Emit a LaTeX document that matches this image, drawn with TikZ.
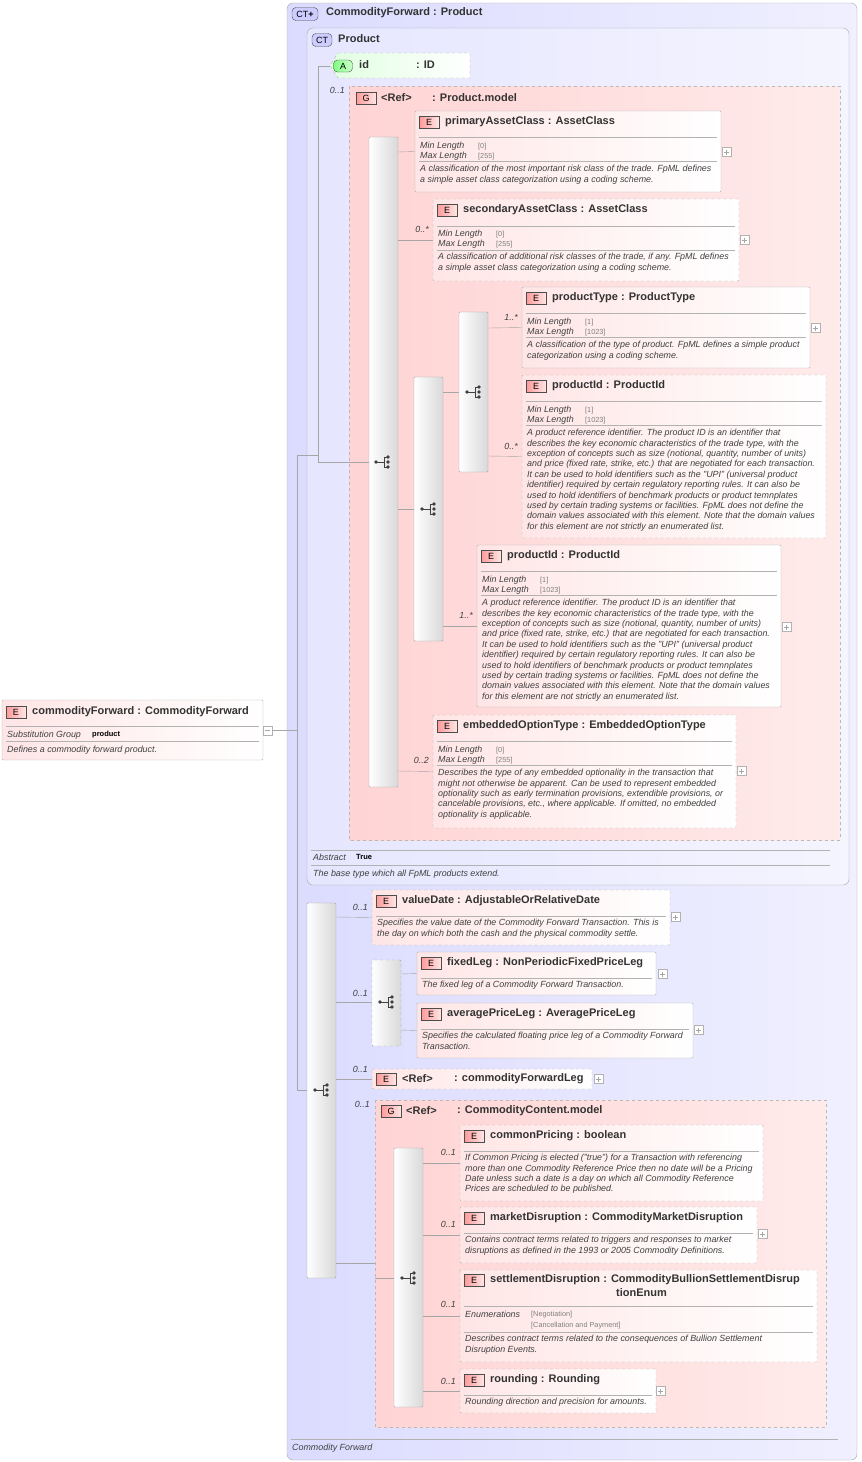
\documentclass[tikz,border=0pt]{standalone}
\usepackage{fontspec}
\setmainfont{Liberation Sans}
\begin{document}
\begin{tikzpicture}[x=1pt,y=-1pt,
 ctbox/.style={draw=gray!70,rounded corners=6pt,left color=blue!14,right color=blue!6},
 grp/.style={draw=gray!55,dashed,left color=red!17,right color=red!8},
 elbox/.style={draw=gray!60,rounded corners=1pt,left color=red!10,right color=white},
 bar/.style={draw=gray!70,left color=white,right color=gray!30,rounded corners=1pt},
 badge/.style={draw=gray!60!black,minimum width=20pt,minimum height=12pt,inner sep=0pt,font=\fontsize{9}{9}\selectfont,left color=red!40,right color=red!10},
 ttl/.style={anchor=west,font=\fontsize{11}{12}\selectfont\bfseries,text=black!80,inner sep=0pt},
 desc/.style={anchor=north west,align=left,inner sep=0pt,font=\fontsize{8.9}{10.4}\selectfont\itshape,text=black!75},
 lab/.style={anchor=base west,inner sep=0pt,font=\fontsize{8.9}{9}\selectfont\itshape,text=black!75},
 val/.style={anchor=base west,inner sep=0pt,font=\fontsize{7.3}{8}\selectfont,text=gray},
 card/.style={anchor=base east,inner sep=0pt,font=\fontsize{8.9}{9}\selectfont\itshape,text=black!75},
 sep/.style={draw=gray!60},
 con/.style={draw=gray!70}]
\useasboundingbox (0,0) rectangle (862,1462);
\newcommand\El[8]{\draw[elbox,#6] (#2,#3) rectangle (#4,#5);
 \node[badge] at (#2+14,#7) {E};
 \node[ttl] at (#2+30,#7) {#8};
 \coordinate (#1) at (#2,{0.5*(#3+#5)});}
\newcommand\Sep[3]{\draw[sep] (#1,#3) -- (#2,#3);}
\newcommand\MM[4]{\node[lab] at (#1+5,#2) {Min Length}; \node[val] at (#1+63,#2) {[#3]};
 \node[lab] at (#1+5,#2+10) {Max Length}; \node[val] at (#1+63,#2+10) {[#4]};}
\newcommand\Plus[2]{\draw[gray!60,fill=white] (#1,#2-4.5) rectangle (#1+9,#2+4.5); \draw[gray!70] (#1+2,#2)--(#1+7,#2) (#1+4.5,#2-2.5)--(#1+4.5,#2+2.5);}
\newcommand\Icon[2]{\fill[black!75] (#1-7,#2) circle (1.8); \draw[black!75] (#1-7,#2)--(#1+1,#2) (#1+1,#2-5)--(#1+1,#2+5) (#1+1,#2-5)--(#1+4,#2-5) (#1+1,#2+5)--(#1+4,#2+5);
 \fill[black!75] (#1+5,#2-5) circle (1.8) (#1+5,#2) circle (1.8) (#1+5,#2+5) circle (1.8);}

% outer CT
\draw[ctbox] (287,3) rectangle (857,1460);
\node[draw=gray!60!black,rounded corners=4pt,fill=blue!20,inner sep=1pt,minimum width=26pt,minimum height=13pt,font=\fontsize{9}{9}\selectfont] (ctplus) at (305,14) {CT\textbf{+}};
\node[ttl] at (326,13) {CommodityForward : Product};
\draw[sep] (291,1439) -- (838,1439);
\node[lab] at (292,1450) {Commodity Forward};

% Product CT
\draw[ctbox,left color=blue!10,right color=blue!4] (307,28) rectangle (849,885);
\node[draw=gray!60!black,rounded corners=4pt,fill=blue!20,inner sep=1pt,minimum width=20pt,minimum height=13pt,font=\fontsize{9}{9}\selectfont] at (322,40) {CT};
\node[ttl] at (338,39) {Product};
\Sep{311}{830}{850}
\node[lab] at (313,860) {Abstract}; \node[val,font=\fontsize{7.5}{8}\selectfont\bfseries,text=black] at (356,859) {True};
\Sep{311}{830}{865}
\node[lab] at (313,876) {The base type which all FpML products extend.};

% id attribute
\draw[draw=gray!60,dashed,left color=green!12,right color=white] (338,53) -- (470,53) -- (470,78) -- (338,78) -- (330,65.5) -- cycle;
\node[draw=gray!60!black,rounded corners=4pt,left color=green!50,right color=green!20,minimum width=19pt,minimum height=12pt,inner sep=0pt,font=\fontsize{9}{9}\selectfont] at (343,66) {A};
\node[ttl] at (359,65) {id};
\node[ttl] at (416,65) {: ID};
\coordinate (idin) at (330,66);

% Product.model group
\draw[grp] (349,86) rectangle (840,840);
\node[card] at (345,93) {0..1};
\node[badge] at (366,98) {G};
\node[ttl] at (381,98) {<Ref>};
\node[ttl] at (432,98) {: Product.model};

\draw[bar] (369,137) rectangle (398,787); \Icon{383}{462}
\draw[bar] (414,377) rectangle (443,641); \Icon{429}{509}
\draw[bar] (459,312) rectangle (488,472); \Icon{474}{392}

\El{pac}{415}{111}{721}{192}{}{122}{primaryAssetClass : AssetClass}
\Sep{419}{717}{137}\MM{415}{148}{0}{255}\Sep{419}{717}{161}
\node[desc] at (420,165) {A classification of the most important risk class of the trade. FpML defines\\a simple asset class categorization using a coding scheme.};
\Plus{722}{152}

\El{sac}{433}{199}{739}{281}{dashed}{210}{secondaryAssetClass : AssetClass}
\Sep{437}{735}{226}\MM{433}{236}{0}{255}\Sep{437}{735}{250}
\node[desc] at (438,253) {A classification of additional risk classes of the trade, if any. FpML defines\\a simple asset class categorization using a coding scheme.};
\Plus{740}{240}\node[card] at (429,232) {0..*};

\El{pt}{522}{287}{810}{368}{}{298}{productType : ProductType}
\Sep{526}{806}{313}\MM{522}{324}{1}{1023}\Sep{526}{806}{337}
\node[desc] at (527,341) {A classification of the type of product. FpML defines a simple product\\categorization using a coding scheme.};
\Plus{811}{328}\node[card] at (518,320) {1..*};

\El{pid}{522}{375}{826}{538}{dashed}{386}{productId : ProductId}
\Sep{526}{822}{401}\MM{522}{412}{1}{1023}\Sep{526}{822}{425}
\node[desc] at (527,429) {A product reference identifier. The product ID is an identifier that\\describes the key economic characteristics of the trade type, with the\\exception of concepts such as size (notional, quantity, number of units)\\and price (fixed rate, strike, etc.) that are negotiated for each transaction.\\It can be used to hold identifiers such as the "UPI" (universal product\\identifier) required by certain regulatory reporting rules. It can also be\\used to hold identifiers of benchmark products or product temnplates\\used by certain trading systems or facilities. FpML does not define the\\domain values associated with this element. Note that the domain values\\for this element are not strictly an enumerated list.};
\node[card] at (518,449) {0..*};

\El{pid2}{477}{545}{781}{707}{}{556}{productId : ProductId}
\Sep{481}{777}{571}\MM{477}{582}{1}{1023}\Sep{481}{777}{595}
\node[desc] at (482,599) {A product reference identifier. The product ID is an identifier that\\describes the key economic characteristics of the trade type, with the\\exception of concepts such as size (notional, quantity, number of units)\\and price (fixed rate, strike, etc.) that are negotiated for each transaction.\\It can be used to hold identifiers such as the "UPI" (universal product\\identifier) required by certain regulatory reporting rules. It can also be\\used to hold identifiers of benchmark products or product temnplates\\used by certain trading systems or facilities. FpML does not define the\\domain values associated with this element. Note that the domain values\\for this element are not strictly an enumerated list.};
\Plus{782}{627}\node[card] at (473,618) {1..*};

\El{eot}{433}{715}{736}{828}{dashed}{726}{embeddedOptionType : EmbeddedOptionType}
\Sep{437}{732}{741}\MM{433}{752}{0}{255}\Sep{437}{732}{765}
\node[desc] at (438,769) {Describes the type of any embedded optionality in the transaction that\\might not otherwise be apparent. Can be used to represent embedded\\optionality such as early termination provisions, extendible provisions, or\\cancelable provisions, etc., where applicable. If omitted, no embedded\\optionality is applicable.};
\Plus{737}{771}\node[card] at (429,763) {0..2};

% connectors in Product
\draw[con] (398,152) -- (pac);
\draw[con] (398,240) -- (sac);
\draw[con] (398,509) -- (414,509);
\draw[con] (398,771) -- (eot);
\draw[con] (443,392) -- (459,392);
\draw[con] (443,626) -- (pid2);
\draw[con] (488,328) -- (pt);
\draw[con] (488,456) -- (pid);

% root element
\El{root}{2}{700}{263}{760}{}{712}{commodityForward : CommodityForward}
\Sep{6}{259}{726}
\node[lab] at (7,737) {Substitution Group};
\node[val,font=\fontsize{7.5}{8}\selectfont\bfseries,text=black] at (92,736) {product};
\Sep{6}{259}{741}
\node[lab] at (7,752) {Defines a commodity forward product.};
\draw[gray!60,fill=white] (263,726) rectangle (272,735); \draw[gray!70] (265,730.5)--(270,730.5);
\coordinate (rootout) at (272,730.5);

% top-level connectors
\coordinate (j) at (297,730.5);
\draw[con] (rootout) -- (j);
\draw[con] (297,455) -- (297,1090);
\draw[con] (297,455) -- (318,455);
\draw[con] (318,66) -- (318,462);
\draw[con] (318,66) -- (idin);
\draw[con] (318,462) -- (369,462);
\draw[con] (297,1090) -- (307,1090);

% second sequence
\draw[bar] (307,903) rectangle (336,1278); \Icon{322}{1090}
\draw[bar,dashed] (372,960) rectangle (401,1046); \Icon{387}{1002}

\El{vd}{372}{890}{670}{945}{dashed}{901}{valueDate : AdjustableOrRelativeDate}
\Sep{376}{666}{916}
\node[desc] at (377,919) {Specifies the value date of the Commodity Forward Transaction. This is\\the day on which both the cash and the physical commodity settle.};
\Plus{671}{917}\node[card] at (368,910) {0..1};

\El{fl}{417}{952}{656}{995}{}{963}{fixedLeg : NonPeriodicFixedPriceLeg}
\Sep{421}{652}{978}
\node[desc] at (422,981) {The fixed leg of a Commodity Forward Transaction.};
\Plus{658}{974}

\El{apl}{417}{1003}{693}{1058}{}{1014}{averagePriceLeg : AveragePriceLeg}
\Sep{421}{689}{1029}
\node[desc] at (422,1032) {Specifies the calculated floating price leg of a Commodity Forward\\Transaction.};
\Plus{694}{1030}

\El{cfl}{372}{1069}{592}{1089}{dashed}{1079}{<Ref>}
\node[ttl] at (454,1079) {: commodityForwardLeg};
\Plus{594}{1079}\node[card] at (368,1072) {0..1};

\node[card] at (368,996) {0..1};
\draw[con] (336,917) -- (vd);
\draw[con] (336,1002) -- (372,1002);
\draw[con] (401,974) -- (fl);
\draw[con] (401,1030) -- (apl);
\draw[con] (336,1079) -- (cfl);
\draw[con] (336,1263) -- (375,1263);

% CommodityContent.model group
\draw[grp] (375,1100) rectangle (826,1427);
\node[card] at (370,1107) {0..1};
\node[badge] at (391,1111) {G};
\node[ttl] at (406,1111) {<Ref>};
\node[ttl] at (457,1111) {: CommodityContent.model};
\draw[bar] (394,1148) rectangle (423,1407); \Icon{409}{1278}
\draw[con] (375,1278) -- (394,1278);

\El{cp}{460}{1125}{763}{1201}{dashed}{1136}{commonPricing : boolean}
\Sep{464}{759}{1151}
\node[desc] at (465,1154) {If Common Pricing is elected ("true") for a Transaction with referencing\\more than one Commodity Reference Price then no date will be a Pricing\\Date unless such a date is a day on which all Commodity Reference\\Prices are scheduled to be published.};
\node[card] at (456,1155) {0..1};

\El{md}{460}{1207}{757}{1263}{dashed}{1218}{marketDisruption : CommodityMarketDisruption}
\Sep{464}{753}{1233}
\node[desc] at (465,1236) {Contains contract terms related to triggers and responses to market\\disruptions as defined in the 1993 or 2005 Commodity Definitions.};
\Plus{758}{1234}\node[card] at (456,1227) {0..1};

\El{sd}{460}{1270}{817}{1362}{dashed}{1280}{settlementDisruption : CommodityBullionSettlementDisrup}
\node[ttl] at (616,1293) {tionEnum};
\Sep{464}{813}{1306}
\node[lab] at (465,1317) {Enumerations};
\node[val] at (531,1316) {[Negotiation]};
\node[val] at (531,1327) {[Cancellation and Payment]};
\Sep{464}{813}{1332}
\node[desc] at (465,1335) {Describes contract terms related to the consequences of Bullion Settlement\\Disruption Events.};
\node[card] at (456,1307) {0..1};

\El{rd}{460}{1369}{656}{1413}{dashed}{1380}{rounding : Rounding}
\Sep{464}{652}{1395}
\node[desc] at (465,1398) {Rounding direction and precision for amounts.};
\Plus{656}{1391}\node[card] at (456,1384) {0..1};

\draw[con] (423,1163) -- (cp);
\draw[con] (423,1235) -- (md);
\draw[con] (423,1316) -- (sd);
\draw[con] (423,1391) -- (rd);
\end{tikzpicture}
\end{document}
